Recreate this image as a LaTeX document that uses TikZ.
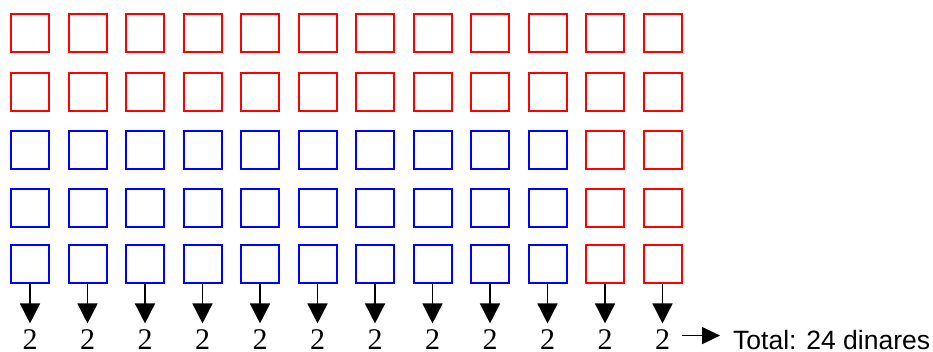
\documentclass[tikz,border=0pt]{standalone}
\usepackage{fontspec}
\setmainfont{Liberation Serif}
\newfontfamily\totalfont{Liberation Sans}
\usetikzlibrary{arrows.meta}
\definecolor{CoinRed}{HTML}{FF0000}
\definecolor{CoinBlue}{HTML}{0000FF}

\begin{document}
\begin{tikzpicture}[
    x=1pt,y=-1pt,
    coin/.style={draw,line width=2pt,minimum size=38pt,inner sep=0pt},
    down/.style={line width=1.6pt,shorten >=6pt,-{Triangle[length=20pt,width=20pt]}},
    digit/.style={font=\fontsize{30}{32}\selectfont,inner sep=0pt,anchor=base}
  ]
  \useasboundingbox (0,0) rectangle (933,352);
  % top two rows: red
  \foreach \c in {1,...,12}{
    \foreach \r/\y in {1/33.5,2/92.5}{
      \node[coin,draw=CoinRed] (c\r-\c) at ({30+57.5*(\c-1)},\y) {};
    }
  }
  % lower rows: blue, last two columns red
  \foreach \c in {1,...,12}{
    \foreach \r/\y in {3/150,4/208.5,5/264}{
      \ifnum\c>10
        \node[coin,draw=CoinRed] (c\r-\c) at ({30+57.5*(\c-1)},\y) {};
      \else
        \node[coin,draw=CoinBlue] (c\r-\c) at ({30+57.5*(\c-1)},\y) {};
      \fi
    }
  }
  % values per column
  \foreach \c in {1,...,12}{
    \node[digit] (n\c) at ({30+57.5*(\c-1)},349.5) {2};
    \draw[down] (c5-\c.south) -- (n\c.north);
  }
  \node[font=\totalfont\fontsize{26.5}{29}\selectfont,inner sep=0pt,anchor=base west] (total) at (733,349) {Total: 24 dinares};
  \draw[line width=1.6pt,shorten <=12pt,shorten >=13pt,-{Triangle[length=18pt,width=17pt]}]
    ([yshift=4pt]n12.east) -- ([yshift=4pt]n12.east -| total.west);
\end{tikzpicture}
\end{document}
